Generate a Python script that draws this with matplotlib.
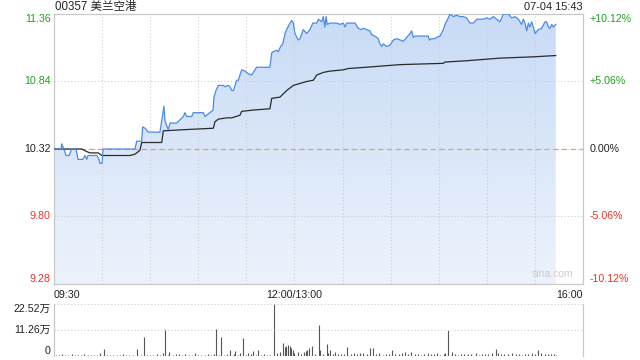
import numpy as np
import matplotlib
matplotlib.use("Agg")
import matplotlib.pyplot as plt
from matplotlib.colors import LinearSegmentedColormap
from matplotlib.patches import Polygon
from matplotlib.transforms import blended_transform_factory

plt.rcParams['font.family'] = ['Liberation Sans', 'Noto Sans CJK SC', 'DejaVu Sans']

title = "00357 美兰空港"
stamp = "07-04 15:43"
prev_close = 10.32

# price line: minutes since 09:30 (lunch removed), price
px_min = [0, 4.4, 4.8, 6.2, 7.5, 9.4, 11, 13.7, 15, 18, 19.3, 20.4, 21.2, 26.8, 28, 28.7, 30,
          30.6, 50.5, 51.6, 54.7, 55.3, 56.8, 58.8, 66.1, 67.2, 68.6, 69.2, 70.3, 71.3, 72.4,
          76.5, 80.7, 81.7, 82.8, 85.9, 86.9, 93.1, 94.2, 99.2, 99.8, 101, 102.5, 105.6, 106.6,
          108.7, 109.8, 110.9, 111.9, 114, 115, 116, 117.1, 119.1, 121.2, 123.3, 126.4, 134.7,
          135.8, 136.8, 138.9, 139.9, 141.4, 142.7, 144.1, 145.1, 147.2, 148.3, 149.3, 150.3,
          152.4, 153.5, 155.5, 157.6, 159.7, 161.4, 163.9, 164.9, 167, 168, 169, 169.7, 170.5,
          172.2, 176.3, 178.4, 180.5, 181.5, 182.6, 187.8, 189.8, 191.9, 193, 195, 197.1, 198.2,
          200.2, 202.3, 203.4, 204.4, 205.4, 207.5, 209.6, 211.7, 213.8, 215.8, 217.9, 220,
          222.1, 223.1, 224.1, 225.2, 233.5, 234.1, 235.6, 237.7, 238.7, 240.8, 242.9, 243.9,
          246, 247, 249.1, 251.2, 253.3, 255.3, 257.4, 259.5, 261.6, 263.7, 267.8, 269.9, 272,
          274.1, 276.2, 278.2, 280.3, 283.4, 285.5, 287.6, 289.7, 291.7, 292.8, 293.8, 294.9,
          295.9, 296.9, 298, 299, 300.1, 302.2, 304.2, 306.3, 307.3, 308.4, 309.4, 310.5, 311.5, 313]
px_val = [10.32, 10.32, 10.36, 10.32, 10.27, 10.27, 10.32, 10.32, 10.24, 10.24, 10.27, 10.24, 10.27,
          10.27, 10.24, 10.21, 10.21,
          10.32, 10.32, 10.38, 10.38, 10.49, 10.48, 10.45, 10.45, 10.54, 10.65, 10.54, 10.50, 10.47,
          10.52, 10.52, 10.57, 10.60, 10.57, 10.57, 10.60, 10.60, 10.57, 10.62, 10.72, 10.77, 10.81,
          10.81, 10.80, 10.81, 10.80, 10.77, 10.77, 10.85, 10.85, 10.89, 10.93, 10.92, 10.90, 10.89,
          10.95, 10.95, 11.06, 11.07, 11.08, 11.07, 11.11, 11.13, 11.21, 11.24, 11.29, 11.31, 11.29,
          11.21, 11.16, 11.17, 11.24, 11.21, 11.24, 11.29, 11.29, 11.32, 11.30, 11.34, 11.26, 11.34,
          11.28, 11.29, 11.29, 11.28, 11.29, 11.26, 11.29, 11.29, 11.25, 11.24, 11.25, 11.24, 11.23,
          11.20, 11.19, 11.17, 11.13, 11.11, 11.13, 11.11, 11.12, 11.16, 11.17, 11.16, 11.15, 11.18,
          11.21, 11.23, 11.18, 11.19, 11.19, 11.16, 11.17, 11.17, 11.18, 11.19, 11.24, 11.28, 11.33,
          11.36, 11.34, 11.35, 11.34, 11.34, 11.33, 11.29, 11.29, 11.32, 11.32, 11.33, 11.32, 11.34,
          11.32, 11.30, 11.36, 11.36, 11.33, 11.34, 11.32, 11.28, 11.32, 11.29, 11.23, 11.29, 11.26,
          11.30, 11.26, 11.21, 11.24, 11.25, 11.30, 11.30, 11.26, 11.25, 11.28, 11.26, 11.28]

# average price line
avg_min = [0, 17.3, 20.4, 22.5, 27.6, 29.8, 47.4, 50.5, 52.6, 53.6, 54.7, 67.2, 68.2, 82.8, 99.4,
           100.4, 102.5, 107.7, 110.9, 116, 117.1, 124.3, 134.7, 135.8, 141, 145.1, 149.3, 157.6,
           161.8, 163.9, 168, 172.2, 180.5, 183.6, 195, 215.8, 242.9, 243.9, 257.4, 278.2, 299, 313]
avg_val = [10.32, 10.32, 10.30, 10.29, 10.29, 10.27, 10.27, 10.28, 10.30, 10.31, 10.37, 10.37, 10.46,
           10.47, 10.48, 10.53, 10.55, 10.56, 10.56, 10.58, 10.61, 10.62, 10.63, 10.71, 10.72, 10.77,
           10.81, 10.84, 10.85, 10.89, 10.91, 10.92, 10.93, 10.94, 10.95, 10.97, 10.98, 10.99, 11.00,
           11.02, 11.03, 11.04]

# volume (万 shares) per minute
vol_min = [1, 3, 5, 7, 9, 11, 13, 15, 17, 19, 21, 23, 25, 27, 29, 31, 33, 35, 37, 39, 41, 43, 45, 47,
           49, 52, 54, 56, 58, 60, 62, 64, 66, 68, 69, 71, 72, 74, 76, 78, 80, 82, 84, 86, 88, 90, 92,
           94, 96, 98, 100, 101, 103, 104, 106, 108, 110, 112, 113, 115, 116, 118, 120, 121, 123, 124,
           126, 127, 129, 131, 133, 135, 137, 139, 141, 143, 144, 145, 146, 147, 148, 149, 150, 152,
           154, 156, 157, 158, 159, 161, 163, 165, 166, 168, 170, 171, 172, 174, 175, 177, 179, 181,
           183, 185, 187, 189, 191, 193, 195, 197, 199, 201, 203, 205, 207, 209, 211, 213, 215, 217,
           219, 221, 223, 225, 227, 229, 231, 233, 235, 237, 239, 241, 243, 244, 246, 248, 250, 252,
           254, 256, 258, 260, 263, 265, 267, 269, 271, 273, 276, 277, 279, 281, 283, 286, 288, 290,
           292, 294, 296, 298, 300, 302, 304, 306, 308, 310, 312, 313]
vol_val = [0.6, 0.4, 0.8, 0.5, 0.4, 0.7, 0.5, 0.6, 0.4, 0.7, 0.5, 0.6, 0.4, 0.5, 1.3, 3.2, 0.5, 0.4,
           0.6, 0.5, 0.4, 0.7, 0.5, 0.4, 0.6, 3.2, 0.5, 8.1, 0.6, 0.5, 0.4, 0.7, 0.5, 1.2, 11.9, 0.6,
           1.7, 0.5, 0.7, 1.0, 0.6, 0.9, 0.5, 0.6, 1.1, 0.5, 0.6, 0.4, 0.7, 0.5, 0.8, 11.6, 0.6, 8.1,
           0.5, 1.0, 2.6, 0.8, 2.1, 0.6, 1.2, 7.7, 0.6, 1.4, 0.8, 2.1, 0.6, 2.6, 0.5, 0.7, 0.4, 0.6,
           22.52, 1.2, 1.6, 5.5, 3.8, 4.3, 4.8, 4.3, 3.3, 2.5, 1.2, 1.6, 0.8, 1.6, 2.0, 2.7, 3.3, 4.3,
           1.0, 13.4, 2.7, 0.9, 5.2, 1.4, 2.5, 0.8, 1.6, 0.7, 1.0, 0.9, 3.8, 0.8, 1.2, 0.7, 1.4, 1.3,
           0.9, 3.3, 3.3, 0.9, 1.1, 0.6, 1.0, 0.8, 2.7, 0.7, 0.9, 1.1, 1.8, 0.8, 1.8, 0.7, 1.0, 0.6,
           0.9, 1.2, 0.7, 0.8, 1.3, 0.6, 0.9, 1.1, 11.1, 1.8, 0.9, 0.6, 0.8, 1.0, 0.7, 0.9, 1.5, 0.6,
           0.8, 1.0, 0.7, 1.3, 2.9, 1.5, 0.8, 1.0, 0.7, 1.5, 0.8, 1.0, 0.6, 0.9, 0.7, 1.1, 0.8, 2.4,
           1.3, 0.9, 1.0, 0.7, 0.8, 0.6]

price_ticks = [11.36, 10.84, 10.32, 9.80, 9.28]
pct_labels = ["+10.12%", "+5.06%", "0.00%", "-5.06%", "-10.12%"]
tick_colors = ["#1ea31e", "#1ea31e", "#222222", "#e8332a", "#e8332a"]
time_ticks = [0, 150, 330]
time_labels = ["09:30", "12:00/13:00", "16:00"]
vol_ticks = [22.52, 11.26, 0]
vol_labels = ["22.52万", "11.26万", "0"]

grid_c = "#cfcfcf"
dot = (0, (1, 2))

fig = plt.figure(figsize=(6.4, 3.6), dpi=100)
ax = fig.add_axes([54 / 640, 1 - 284 / 360, 529 / 640, 270 / 360])
vax = fig.add_axes([54 / 640, 1 - 356 / 360, 529 / 640, 52 / 360])

# gradient fill under price
cmap = LinearSegmentedColormap.from_list("f", ["#edf3fc", "#c8dbf6"])
grad = np.linspace(0, 1, 256).reshape(-1, 1)
im = ax.imshow(grad, cmap=cmap, origin="lower", aspect="auto",
               extent=[0, 330, price_ticks[-1], price_ticks[0]], zorder=1)
poly_pts = [(px_min[0], price_ticks[-1])] + list(zip(px_min, px_val)) + [(px_min[-1], price_ticks[-1])]
poly = Polygon(poly_pts, closed=True, transform=ax.transData, facecolor="none", edgecolor="none")
ax.add_patch(poly)
im.set_clip_path(poly)

for t in range(30, 330, 30):
    ax.axvline(t, color=grid_c, lw=0.8, ls=dot, zorder=2)
for p in price_ticks[1:-1]:
    ax.axhline(p, color=grid_c, lw=0.8, ls=dot, zorder=2)
ax.axhline(prev_close, color="#f39a62", lw=0.9, dashes=(4, 3), zorder=2)

ax.plot(px_min, px_val, color="#4b8be6", lw=0.9, zorder=4)
ax.plot(avg_min, avg_val, color="#2a2a2a", lw=0.9, zorder=3)

ax.set_xlim(0, 330)
ax.set_ylim(price_ticks[-1], price_ticks[0])
ax.set_xticks([])
ax.set_yticks([])
for s in ax.spines.values():
    s.set_color("#c8c8c8")
    s.set_linewidth(0.9)

trl = blended_transform_factory(ax.transAxes, ax.transData)
for i, (p, lab, c) in enumerate(zip(price_ticks, pct_labels, tick_colors)):
    va = "top" if i == 0 else ("bottom" if i == len(price_ticks) - 1 else "center")
    ax.text(-0.006, p, f"{p:.2f}", transform=trl, ha="right", va=va, color=c, fontsize=7.7)
    ax.text(1.013, p, lab, transform=trl, ha="left", va=va, color=c, fontsize=7.7)

tb = blended_transform_factory(ax.transData, ax.transAxes)
for t, lab, ha in zip(time_ticks, time_labels, ["left", "center", "right"]):
    ax.text(t, -0.022, lab, transform=tb, ha=ha, va="top", color="#222222", fontsize=7.7)

ax.text(0.002, 1.026, title, transform=ax.transAxes, ha="left", va="center", fontsize=8.3, color="#222222")
ax.text(1.0, 1.026, stamp, transform=ax.transAxes, ha="right", va="center", fontsize=7.9, color="#222222")
ax.text(0.981, 0.02, "sina.com", transform=ax.transAxes, ha="right", va="bottom",
        fontsize=7.5, color="#cccccc", zorder=5)

# volume panel
vax.vlines(vol_min, 0, vol_val, color="#555555", lw=0.8)
vax.axhline(vol_ticks[1], color=grid_c, lw=0.8, ls=dot)
vax.axhline(vol_ticks[0], color=grid_c, lw=0.8, ls=dot)
vax.set_xlim(0, 330)
vax.set_ylim(0, vol_ticks[0])
vax.set_xticks([])
vax.set_yticks([])
for k, s in vax.spines.items():
    s.set_color("#c8c8c8")
    s.set_linewidth(0.9)
vax.spines["top"].set_visible(False)
vax.spines["bottom"].set_visible(False)

tvl = blended_transform_factory(vax.transAxes, vax.transData)
for i, (v, lab) in enumerate(zip(vol_ticks, vol_labels)):
    va = "top" if i == 0 else ("bottom" if i == 2 else "center")
    vax.text(-0.006, v, lab, transform=tvl, ha="right", va=va, color="#222222", fontsize=7.7)

fig.savefig("out.png", dpi=100)
